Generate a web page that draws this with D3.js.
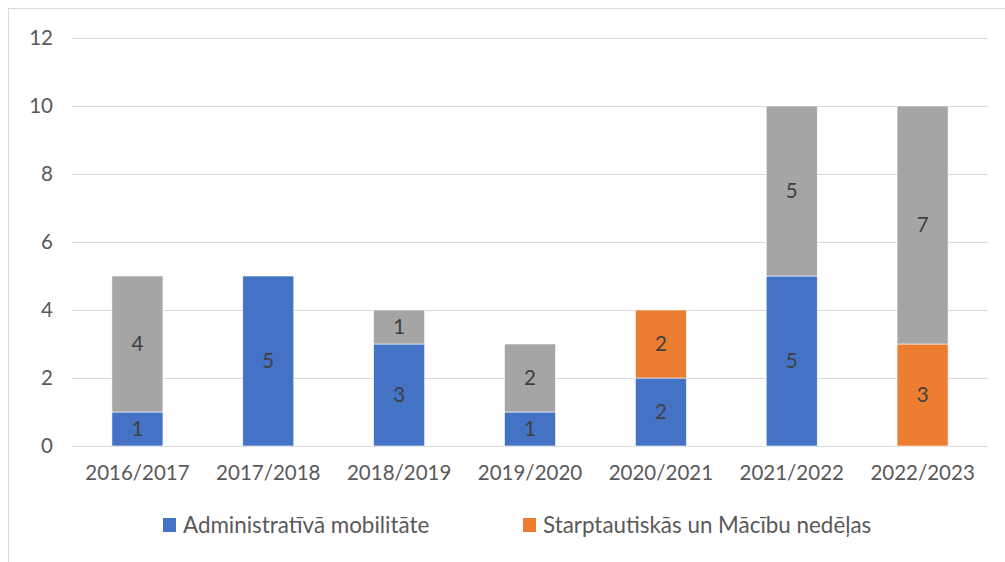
<!DOCTYPE html>
<html><head><meta charset="utf-8">
<script src="https://cdn.jsdelivr.net/npm/d3@7"></script>
<style>body{margin:0;background:#fff}svg{display:block;font-family:Lato,"Open Sans",sans-serif}</style>
</head><body><svg id="c" width="1005" height="562"></svg>
<script>
const categories = ["2016/2017","2017/2018","2018/2019","2019/2020","2020/2021","2021/2022","2022/2023"];
const seriesNames = ["Administratīvā mobilitāte","Starptautiskās un Mācību nedēļas","Citi"];
const adminValues = [1,5,3,1,2,5,0];
const starptValues = [0,0,0,0,2,0,3];
const otherValues = [4,0,1,2,0,5,7];
const yTicks = [0,2,4,6,8,10,12];
const colors = ["#4472C4","#ED7D31","#A5A5A5"];
const legendShown = [0,1];

const svg = d3.select("#c");
svg.append("rect").attr("x",8.5).attr("y",8.5).attr("width",1010).attr("height",560)
  .attr("fill","#fff").attr("stroke","#d9d9d9");

const x = d3.scaleBand().domain(categories).range([72,988]).paddingInner(0.61).paddingOuter(0.305);
const y = d3.scaleLinear().domain([0,12]).range([446,38]);

const g = svg.append("g");
g.selectAll("line.grid").data(yTicks).join("line")
  .attr("x1",72).attr("x2",988).attr("y1",d=>y(d)+0.5).attr("y2",d=>y(d)+0.5)
  .attr("stroke","#d9d9d9").attr("stroke-width",1);

const yAxis = d3.axisLeft(y).tickValues(yTicks).tickSize(0).tickPadding(0);
const ya = svg.append("g").attr("transform","translate(53,0)").call(yAxis);
ya.select(".domain").remove();
ya.selectAll("text").attr("fill","#595959").style("font-size","20.5px").style("font-family","Lato");

const xAxis = d3.axisBottom(x).tickSize(0).tickPadding(0);
const xa = svg.append("g").attr("transform","translate(0,465)").call(xAxis);
xa.select(".domain").remove();
xa.selectAll("text").attr("fill","#595959").style("font-size","20.5px").style("font-family","Lato");

const table = categories.map((c,i)=>({cat:c, s0:adminValues[i], s1:starptValues[i], s2:otherValues[i]}));
const stack = d3.stack().keys(["s0","s1","s2"])(table);

stack.forEach((layer,k)=>{
  const lg = svg.append("g");
  lg.selectAll("rect").data(layer).join("rect")
    .attr("x",d=>x(d.data.cat)).attr("width",x.bandwidth())
    .attr("y",d=>y(d[1])).attr("height",d=>y(d[0])-y(d[1]))
    .attr("fill",colors[k]).attr("stroke","#fff").attr("stroke-width",0.6)
    .attr("display",d=>d[1]-d[0]>0?null:"none");
  lg.selectAll("text").data(layer.filter(d=>d[1]-d[0]>0)).join("text")
    .attr("x",d=>x(d.data.cat)+x.bandwidth()/2)
    .attr("y",d=>(y(d[0])+y(d[1]))/2).attr("dy","0.36em")
    .attr("text-anchor","middle").attr("fill","#404040")
    .style("font-size","20.5px").text(d=>d[1]-d[0]);
});

const legX = [163,523];
const leg = svg.append("g");
legendShown.forEach((k,i)=>{
  leg.append("rect").attr("x",legX[i]).attr("y",518).attr("width",13).attr("height",14).attr("fill",colors[k]);
  leg.append("text").attr("x",legX[i]+20).attr("y",525).attr("dy","0.36em")
    .attr("fill","#595959").style("font-size","22.4px").text(seriesNames[k]);
});
</script></body></html>
